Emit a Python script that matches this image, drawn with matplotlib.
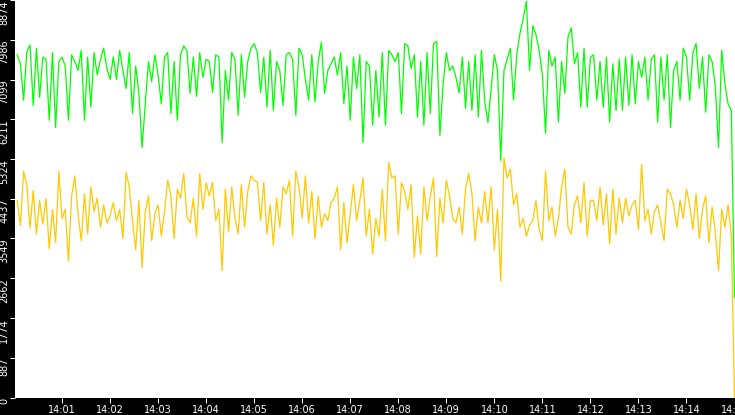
import matplotlib
matplotlib.use("Agg")
import matplotlib.pyplot as plt
import numpy as np

# one sample every 4 s, from 14:00:04 to 14:15:00 (seconds after 14:00)
secs = np.arange(4, 901, 4)

green = [
    7650, 7450, 6640, 7720, 7870, 6520, 7800, 6700, 7600, 7550, 6190, 7700, 6030, 7500, 7600,
    7400, 6190, 7650, 7500, 7300, 7750, 6190, 7600, 6480, 7700, 7200, 7550, 7800, 7350, 7100,
    7600, 7100, 7750, 7300, 6900, 7700, 6340, 7400, 6800, 5580, 6560, 7500, 7050, 7650, 7200,
    6560, 7600, 7700, 6340, 7500, 6190, 7650, 7850, 7750, 6790, 7600, 6720, 7700, 7150, 7550,
    7500, 6810, 7650, 7600, 5690, 7300, 6640, 7700, 7550, 6300, 7650, 6700, 7500, 7800, 7900,
    7700, 6810, 7600, 6480, 7750, 6410, 7500, 7300, 6520, 7650, 7700, 7550, 6300, 7800, 7650,
    7100, 6640, 7650, 6600, 7500, 7930, 6790, 7300, 7450, 7600, 7200, 7700, 6560, 7400, 6190,
    7600, 6900, 7650, 5690, 7500, 7400, 6080, 7300, 6260, 7700, 6080, 7750, 7650, 7500, 7700,
    6340, 7900, 7850, 7350, 7650, 6260, 7500, 6080, 7700, 6340, 7900, 7950, 5850, 7000, 7700,
    7300, 7400, 7150, 6800, 7600, 6460, 7500, 6410, 7650, 6260, 7750, 6600, 6140, 6900, 7650,
    7300, 5290, 7300, 7550, 7800, 6640, 7650, 8130, 8450, 8850, 7300, 8300, 8100, 7750, 7200,
    5900, 7750, 7400, 7600, 6150, 7500, 6790, 8050, 8250, 7450, 7700, 6480, 7800, 6480, 7600,
    7650, 6640, 7500, 6480, 7600, 6150, 7450, 6410, 7550, 6410, 7600, 6520, 7650, 6560, 7500,
    7150, 7600, 6640, 7550, 7650, 6150, 7600, 6640, 7650, 6030, 7300, 7500, 6640, 7800, 7600,
    6640, 7700, 7900, 6900, 7600, 6370, 7650, 7500, 6950, 5580, 7750, 7000, 6550, 6410, 2230,
]

yellow = [
    4400, 3840, 5050, 4750, 3780, 4620, 3650, 4400, 3870, 4440, 3320, 4200, 3460, 5050, 4000,
    4200, 3050, 4500, 4950, 4100, 3500, 4550, 3650, 4700, 4150, 4450, 3800, 4300, 3900, 4050,
    4350, 3950, 4200, 3550, 5030, 4700, 3950, 3300, 4400, 2900, 4150, 4500, 3500, 4100, 4300,
    3600, 4150, 4850, 4500, 3550, 4650, 4450, 5000, 4050, 3900, 4450, 3600, 5000, 4200, 4800,
    4500, 4800, 3950, 4200, 2830, 4650, 3700, 4700, 4000, 3650, 4750, 3800, 4600, 4950, 4850,
    4800, 3950, 4800, 3650, 4300, 3400, 4450, 3800, 4700, 4550, 4850, 3600, 5050, 4700, 4000,
    4950, 3900, 4600, 3550, 4500, 3800, 4100, 3950, 4350, 4450, 4700, 3300, 4350, 3450, 4100,
    4750, 3950, 4400, 4900, 3600, 4200, 3200, 4000, 3600, 4650, 3500, 5250, 4900, 4950, 3650,
    4800, 4600, 4200, 4750, 3130, 4050, 3200, 4700, 3950, 4500, 4900, 3150, 4450, 3900, 4850,
    4500, 4000, 3900, 4250, 3650, 4650, 5000, 4550, 3500, 4250, 3900, 4600, 3900, 4700, 3300,
    4200, 2600, 5350, 4900, 5100, 4300, 4550, 3800, 4000, 3600, 3850, 3950, 4400, 3750, 3500,
    5050, 3950, 4250, 3600, 4000, 4700, 5100, 3800, 3650, 4300, 4500, 3900, 4800, 3600, 4400,
    4400, 3950, 4700, 3850, 4550, 3430, 4650, 3650, 4450, 3900, 4450, 4050, 4300, 4400, 3750,
    5200, 3950, 4200, 3650, 4150, 4300, 3900, 3500, 4650, 4550, 4300, 3800, 4400, 4000, 4650,
    4300, 3750, 4550, 3550, 4200, 4500, 3450, 4250, 3700, 2830, 4200, 3800, 4300, 3600, 0,
]

y_max = 8874.4
y_ticks = [0, 887.4, 1774.9, 2662.3, 3549.8, 4437.2, 5324.6, 6211.1, 7099.5, 7986.9, 8874.4]
y_labels = ["0", "887", "1774", "2662", "3549", "4437", "5324", "6211", "7099", "7986", "8874"]

x_ticks = [60 * m for m in range(1, 16)]
x_labels = ["14:%02d" % m for m in range(1, 16)]

fig = plt.figure(figsize=(7.35, 4.15), dpi=100, facecolor="black")
ax = fig.add_axes([15 / 735, 17.5 / 415, 720 / 735, 397.5 / 415])
ax.set_facecolor("white")

ax.plot(secs, yellow, color="#ffc800", lw=0.9)
ax.plot(secs, green, color="#00ff00", lw=0.9)

ax.set_xlim(1.25, 900.6)
ax.set_ylim(0, y_max)

ax.set_xticks(x_ticks)
ax.set_xticklabels(x_labels)
ax.set_yticks(y_ticks)
ax.set_yticklabels(y_labels, rotation=90, va="top")

ax.tick_params(axis="both", colors="white", labelcolor="white", length=3.6,
               width=0.75, labelsize=7)
ax.tick_params(axis="x", pad=2)
ax.tick_params(axis="y", pad=0.5)

for s in ax.spines.values():
    s.set_visible(False)

fig.savefig("out.png", dpi=100, facecolor="black")
